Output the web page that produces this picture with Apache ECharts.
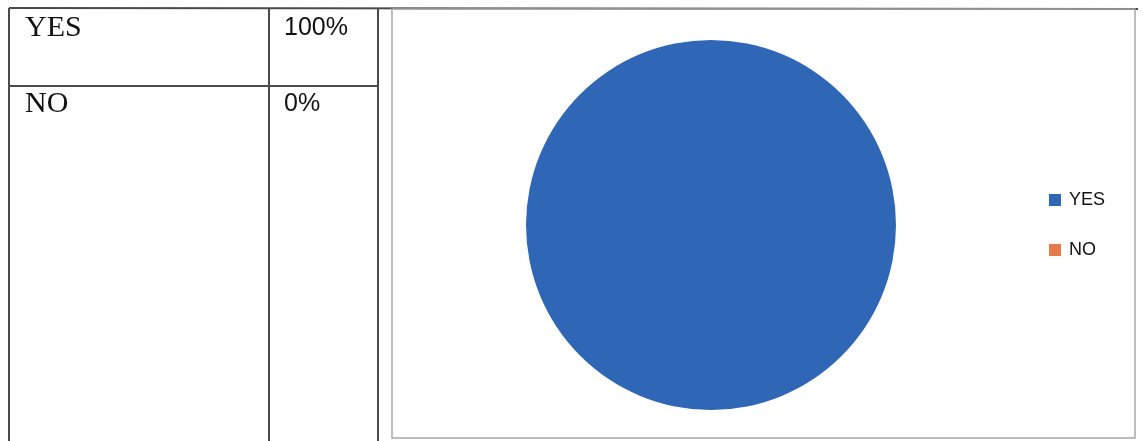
<!DOCTYPE html>
<html>
<head>
<meta charset="utf-8">
<script src="https://cdn.jsdelivr.net/npm/echarts@6/dist/echarts.min.js"></script>
<style>
html,body{margin:0;padding:0;background:#fff;}
#chart{width:1143px;height:441px;}
</style>
</head>
<body>
<div id="chart"></div>
<script>
var categories = ['YES', 'NO'];
var values = [100, 0];
var tableLabels = ['100%', '0%'];
var colors = ['#2f67b6', '#e8794c'];

var chart = echarts.init(document.getElementById('chart'));

var lineDark = '#4a4a4a';
var lineLight = '#a8a8a8';
var rowMiddles = [28, 104];

var graphics = [
  {type:'line', shape:{x1:9, y1:8, x2:1138, y2:9}, style:{stroke:lineDark, lineWidth:2}},
  {type:'line', shape:{x1:9, y1:8, x2:9, y2:441}, style:{stroke:lineDark, lineWidth:2}},
  {type:'line', shape:{x1:269, y1:8, x2:269, y2:441}, style:{stroke:lineDark, lineWidth:2}},
  {type:'line', shape:{x1:378, y1:8, x2:378, y2:441}, style:{stroke:lineDark, lineWidth:2}},
  {type:'line', shape:{x1:9, y1:86, x2:378, y2:86}, style:{stroke:lineDark, lineWidth:2}},
  {type:'rect', shape:{x:392, y:9, width:743, height:429}, style:{fill:'none', stroke:lineLight, lineWidth:1.5}}
];
categories.forEach(function(c, i){
  graphics.push({type:'text', x:25, y:rowMiddles[i], style:{text:c, fontSize:30, fontFamily:'"Liberation Serif", "Times New Roman", serif', fill:'#111', verticalAlign:'middle', align:'left'}});
  graphics.push({type:'text', x:284, y:rowMiddles[i], style:{text:tableLabels[i], fontSize:25, fontFamily:'"Liberation Sans", Arial, sans-serif', fill:'#111', verticalAlign:'middle', align:'left'}});
});

chart.setOption({
  animation:false,
  color: colors,
  legend: {
    orient:'vertical',
    left:1049,
    top:191,
    padding:0,
    itemWidth:12,
    itemHeight:12,
    itemGap:32,
    icon:'rect',
    textStyle:{fontSize:18, fontFamily:'"Liberation Sans", Arial, sans-serif', color:'#111', padding:[0,0,0,3]},
    data: categories
  },
  graphic: graphics,
  series: [{
    type:'pie',
    center:[711, 225],
    radius:185,
    label:{show:false},
    labelLine:{show:false},
    emphasis:{disabled:true},
    startAngle:90,
    data: categories.map(function(c, i){ return {name:c, value:values[i]}; })
  }]
});
</script>
</body>
</html>
